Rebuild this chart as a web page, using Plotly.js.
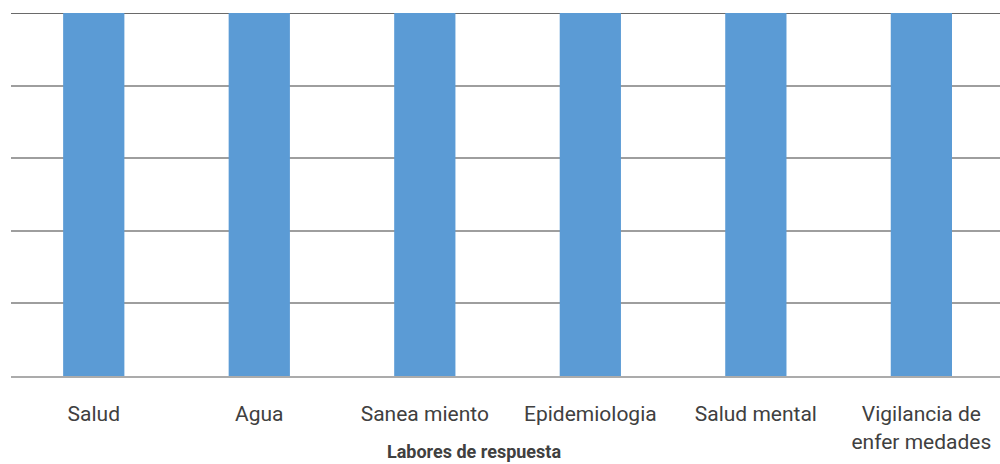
<!DOCTYPE html>
<html>
<head>
<meta charset="utf-8">
<script src="https://cdn.plot.ly/plotly-3.0.1.min.js"></script>
<style>html,body{margin:0;padding:0;background:#fff;}#chart{width:1000px;height:464px;}</style>
</head>
<body>
<div id="chart"></div>
<script>
const categories = ["Salud", "Agua", "Sanea miento", "Epidemiologia", "Salud mental", "Vigilancia de<br>enfer medades"];
const values = [100, 100, 100, 100, 100, 100];
const yMax = 100;
const xTitle = "Labores de respuesta";

const trace = {
  type: 'bar',
  x: categories,
  y: values,
  marker: {color: '#5B9BD5'},
  hoverinfo: 'x+y'
};

const layout = {
  width: 1000, height: 464,
  margin: {l: 11, r: 0, t: 13, b: 88},
  paper_bgcolor: '#ffffff', plot_bgcolor: '#ffffff',
  bargap: 0.63,
  showlegend: false,
  font: {family: 'Roboto, "Noto Sans", sans-serif', color: '#404040'},
  title: {
    text: '<b>' + xTitle + '</b>',
    font: {family: 'Roboto, "Noto Sans", sans-serif', size: 18, color: '#404040'},
    xref: 'container', yref: 'container',
    x: 0.474, xanchor: 'center',
    y: 0.012, yanchor: 'bottom'
  },
  xaxis: {
    type: 'category',
    range: [-0.5, 5.475],
    showgrid: false,
    showline: true, linecolor: '#ababab', linewidth: 2,
    ticks: '', ticklabelstandoff: 18,
    tickfont: {size: 21, color: '#404040'},
    tickangle: 0,
    automargin: false,
    fixedrange: true
  },
  yaxis: {
    range: [0, yMax],
    dtick: 20,
    showticklabels: false,
    showgrid: true, gridcolor: '#9e9e9e', gridwidth: 2,
    zeroline: false, showline: false,
    automargin: false,
    fixedrange: true
  },
  shapes: [{
    type: 'line', xref: 'paper', yref: 'y', x0: 0, x1: 1, y0: yMax, y1: yMax,
    line: {color: '#6a6a6a', width: 2}, layer: 'below'
  }]
};

Plotly.newPlot('chart', [trace], layout, {displayModeBar: false, staticPlot: true});
</script>
</body>
</html>
